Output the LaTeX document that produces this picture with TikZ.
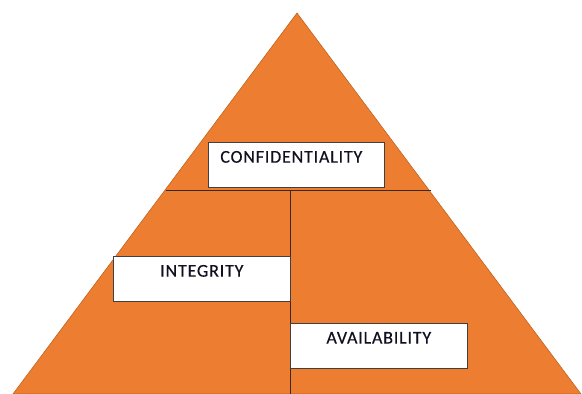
\documentclass[tikz,border=0pt]{standalone}
\usepackage{fontspec}
\setmainfont{Carlito}
\newfontfamily\tierfont[LetterSpace=4.5,FakeBold=0.35]{Carlito}
\begin{document}
\begin{tikzpicture}[x=1pt,y=1pt,
  layer/.style={fill=pyrorange,draw=pyredge,line width=0.6pt},
  divider/.style={draw=pyrline,line width=0.8pt},
  labelbox/.style={draw=boxedge,fill=white,line width=0.7pt,inner sep=0pt,anchor=south west},
  labeltext/.style={font=\tierfont\fontsize{18}{20}\selectfont,text=labelink,anchor=north,inner sep=0pt}]
\definecolor{pyrorange}{HTML}{ED7D31}
\definecolor{pyredge}{HTML}{C0641F}
\definecolor{pyrline}{HTML}{3A2A1C}
\definecolor{boxedge}{HTML}{404040}
\definecolor{labelink}{HTML}{101020}
\useasboundingbox (0,0) rectangle (582,394);
% pyramid outline
\coordinate (apex) at (297,381);
\coordinate (bl) at (13,0);
\coordinate (br) at (581,0);
\path[layer] (bl) -- (apex) -- (br) -- cycle;
% tier divisions
\coordinate (hl) at (165.5,204);
\coordinate (hr) at (430.5,204);
\coordinate (vt) at (290,204);
\coordinate (vb) at (290,0);
\draw[divider] (hl) -- (hr);
\draw[divider] (vt) -- (vb);
% labelled boxes
\node[labelbox,minimum width=176pt,minimum height=45pt] (conf) at (208,206) {};
\node[labeltext] (conft) at ([xshift=-5pt,yshift=-8.5pt]conf.north) {CONFIDENTIALITY};
\node[labelbox,minimum width=177pt,minimum height=45pt] (integ) at (113,92) {};
\node[labeltext] (integt) at ([yshift=-8.5pt]integ.north) {INTEGRITY};
\node[labelbox,minimum width=177pt,minimum height=45pt] (avail) at (290,25) {};
\node[labeltext] (availt) at ([yshift=-8.5pt]avail.north) {AVAILABILITY};
\end{tikzpicture}
\end{document}
